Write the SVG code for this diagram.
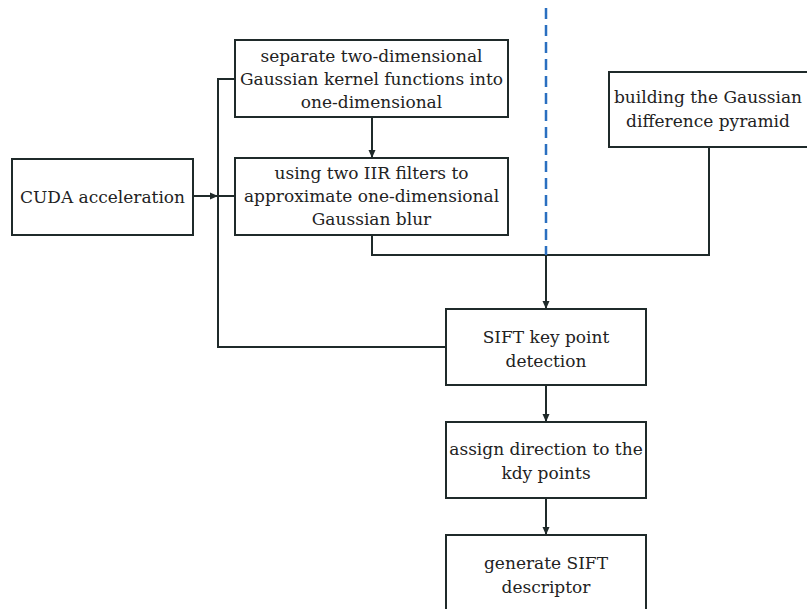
<svg xmlns="http://www.w3.org/2000/svg" width="807" height="609" viewBox="0 0 807 609">
<style>
.box{fill:#fff;stroke:#1f2a2a;stroke-width:2}
.t{font-family:"DejaVu Serif","Liberation Serif",serif;font-size:17px;fill:#222;text-anchor:middle}
.c{fill:none;stroke:#1f2a2a;stroke-width:2}
.d{fill:none;stroke:#2a6fc0;stroke-width:2.5;stroke-dasharray:11 6}
</style>
<defs>
<marker id="ah" markerWidth="10" markerHeight="10" refX="9" refY="5" orient="auto" markerUnits="userSpaceOnUse">
<path d="M1,1.5 L9,5 L1,8.5 Z" fill="#1f2a2a"/>
</marker>
</defs>
<g id="connectors">
<path class="c" d="M193,196 H218" marker-end="url(#ah)"/>
<path class="c" d="M218,196 H235"/>
<path class="c" d="M235,79 H218 V347 H446"/>
<path class="c" d="M372,117 V158" marker-end="url(#ah)"/>
<path class="c" d="M372,235 V255 H709 V147"/>
<path class="c" d="M546,255 V309" marker-end="url(#ah)"/>
<path class="c" d="M546,385 V422" marker-end="url(#ah)"/>
<path class="c" d="M546,498 V535" marker-end="url(#ah)"/>
<path class="d" d="M546,8 V255"/>
</g>
<g id="cuda">
<rect class="box" x="12" y="159" width="181" height="76"/>
<text class="t" x="102.5" y="203">CUDA acceleration</text>
</g>
<g id="separate">
<rect class="box" x="235" y="40" width="273" height="77"/>
<text class="t" x="371.5" y="62">separate two-dimensional</text>
<text class="t" x="371.5" y="85">Gaussian kernel functions into</text>
<text class="t" x="371.5" y="108">one-dimensional</text>
</g>
<g id="iir">
<rect class="box" x="235" y="158" width="273" height="77"/>
<text class="t" x="371.5" y="179">using two IIR filters to</text>
<text class="t" x="371.5" y="202">approximate one-dimensional</text>
<text class="t" x="371.5" y="225">Gaussian blur</text>
</g>
<g id="pyramid">
<rect class="box" x="609" y="72" width="210" height="75"/>
<text class="t" x="708" y="103">building the Gaussian</text>
<text class="t" x="708" y="127">difference pyramid</text>
</g>
<g id="sift">
<rect class="box" x="446" y="309" width="200" height="76"/>
<text class="t" x="546" y="343">SIFT key point</text>
<text class="t" x="546" y="367">detection</text>
</g>
<g id="assign">
<rect class="box" x="446" y="422" width="200" height="76"/>
<text class="t" x="546" y="455">assign direction to the</text>
<text class="t" x="546" y="479">kdy points</text>
</g>
<g id="generate">
<rect class="box" x="446" y="535" width="200" height="80"/>
<text class="t" x="546" y="569">generate SIFT</text>
<text class="t" x="546" y="593">descriptor</text>
</g>
</svg>
